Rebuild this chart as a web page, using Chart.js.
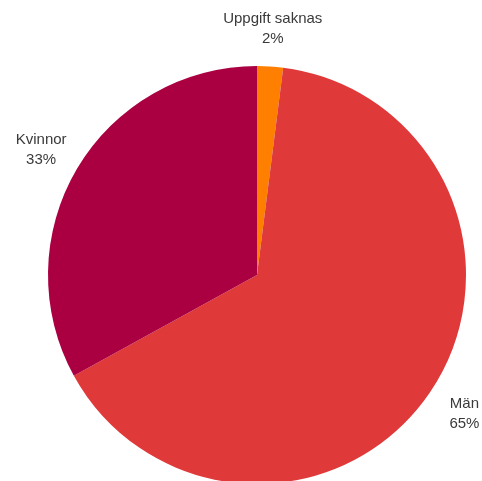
<!DOCTYPE html>
<html>
<head>
<meta charset="utf-8">
<script src="https://cdn.jsdelivr.net/npm/chart.js@4"></script>
<style>
  html, body { margin: 0; padding: 0; background: #fff; overflow: hidden; height: 481px; }
  .chart-container { width: 482px; height: 500px; }
</style>
</head>
<body>
<div class="chart-container">
  <canvas id="chartCanvas"></canvas>
</div>
<script>
// Data
const categories = ['Uppgift saknas', 'Män', 'Kvinnor'];
const shares = [2, 65, 33];
const sliceColors = ['#FF7F00', '#E0393A', '#AA0042'];

// Draw two-line labels outside each slice, along its mid angle
const outsideLabels = {
  id: 'outsideLabels',
  afterDatasetsDraw(chart) {
    const ctx = chart.ctx;
    const meta = chart.getDatasetMeta(0);
    ctx.save();
    ctx.font = '15px "Liberation Sans", Arial, sans-serif';
    ctx.fillStyle = '#3a3a3a';
    ctx.textAlign = 'center';
    ctx.textBaseline = 'middle';
    meta.data.forEach((arc, i) => {
      const { x, y, startAngle, endAngle, outerRadius } = arc.getProps(['x', 'y', 'startAngle', 'endAngle', 'outerRadius'], true);
      const mid = (startAngle + endAngle) / 2;
      const lx = x + Math.cos(mid) * outerRadius * 1.2;
      const ly = y + Math.sin(mid) * outerRadius * 1.18;
      ctx.fillText(chart.data.labels[i], lx, ly - 10);
      ctx.fillText(shares[i] + '%', lx, ly + 10);
    });
    ctx.restore();
  }
};

new Chart(document.getElementById('chartCanvas'), {
  type: 'pie',
  data: {
    labels: categories,
    datasets: [{
      data: shares,
      backgroundColor: sliceColors,
      borderWidth: 0
    }]
  },
  options: {
    responsive: true,
    maintainAspectRatio: false,
    animation: false,
    // canvas is taller than the window so the pie runs past the bottom edge
    layout: { padding: { top: 66, bottom: 16, left: 48, right: 16 } },
    plugins: {
      legend: { display: false },
      tooltip: { enabled: false }
    }
  },
  plugins: [outsideLabels]
});
</script>
</body>
</html>
